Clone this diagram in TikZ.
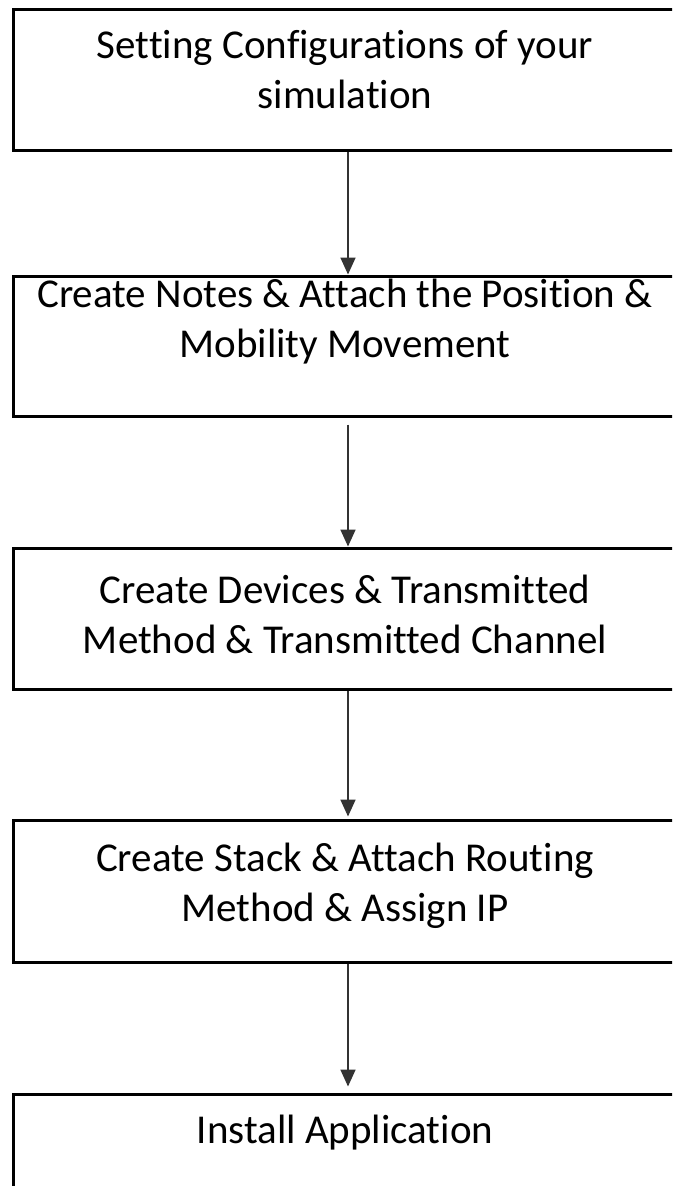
\documentclass[tikz,border=0pt]{standalone}
\usepackage{fontspec}
\setmainfont[Ligatures=NoCommon]{Carlito}
\usetikzlibrary{arrows.meta}
\begin{document}
\begin{tikzpicture}[x=1pt,y=-1pt,
  stepbox/.style={draw=black,line width=3pt,rectangle,inner sep=0pt,minimum width=664pt},
  steptext/.style={align=center,font=\fontsize{41}{50}\selectfont,inner sep=0pt},
  flow/.style={draw=black!80,line width=1.8pt,-{Triangle[length=17pt,width=15pt]}}]
\useasboundingbox (0,0) rectangle (672,1186);
\clip (0,0) rectangle (672,1186);
\fill[white] (0,0) rectangle (672,1186);
\node[stepbox,minimum height=141pt] (b1) at (345,79.5) {};
\node[stepbox,minimum height=140pt] (b2) at (345,346) {};
\node[stepbox,minimum height=141pt] (b3) at (345,618.5) {};
\node[stepbox,minimum height=142pt] (b4) at (345,891) {};
\node[stepbox,minimum height=140pt] (b5) at (345,1164) {};
\node[steptext] (t1) at (345,70) {Setting Configurations of your\\simulation};
\node[steptext] (t2) at (345,322) {Create Notes \& Attach the Position \&\\Mobility Movement};
\node[steptext] (t3) at (345,614) {Create Devices \& Transmitted\\Method \& Transmitted Channel};
\node[steptext] (t4) at (345,886) {Create Stack \& Attach Routing\\Method \& Assign IP};
\node[steptext] (t5) at (345,1133) {Install Application};
\draw[flow] (b1.south -| 348,0) -- (b2.north -| 348,0);
\draw[flow,shorten <=7pt] (b2.south -| 348,0) -- (b3.north -| 348,0);
\draw[flow,shorten >=2pt] (b3.south -| 348,0) -- (b4.north -| 348,0);
\draw[flow,shorten >=6pt] (b4.south -| 348,0) -- (b5.north -| 348,0);
\end{tikzpicture}
\end{document}
